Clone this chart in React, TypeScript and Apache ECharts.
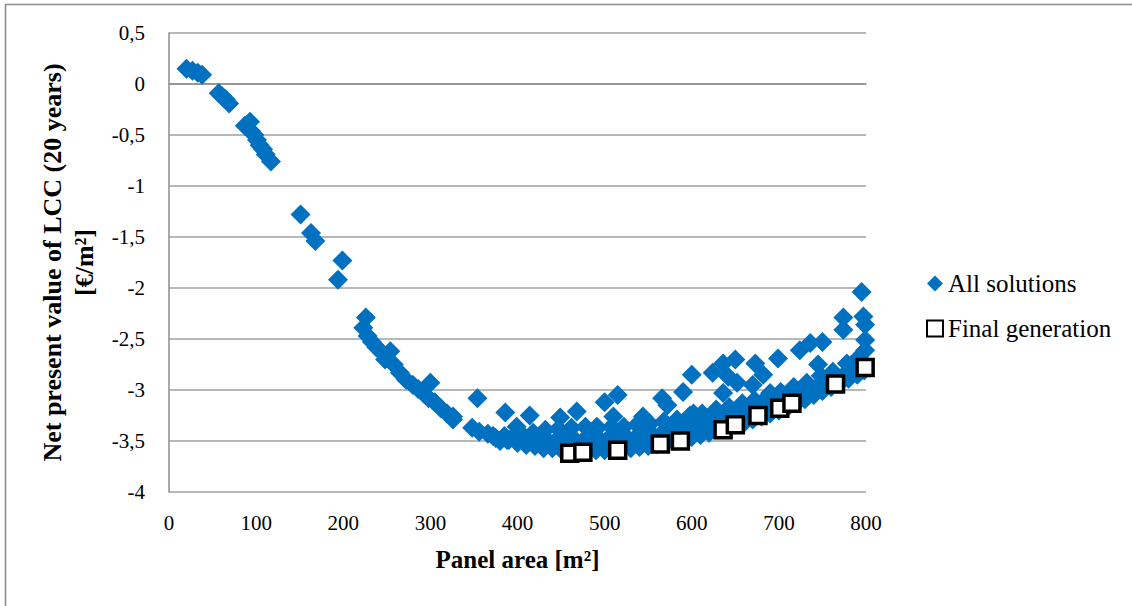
import React, { useEffect, useRef } from "react";
import * as echarts from "echarts";

// All evaluated solutions: panel area [m²] and net present value of LCC [€/m²]
const allArea = [
  20, 27, 33, 38, 57, 61, 65, 69,
  87, 93, 94, 98, 101, 104, 108, 111, 117,
  151, 163, 168, 194, 199,
  226, 223, 228, 233, 238, 244, 254, 248, 258,
  265, 272, 280, 286, 300, 293, 298, 305, 312, 319, 326,
  354, 326, 348, 356, 366, 386, 399, 414, 388, 375, 372, 380, 385,
  449, 468, 500, 515, 510, 491, 544, 566, 572, 590, 600, 602, 624, 636, 650, 642, 636, 652,
  673, 682, 699, 670, 690, 724, 736, 750, 745, 774, 774, 795, 797, 799, 799, 799,
  // lower row of the dense band
  390, 400, 410, 420, 430, 440, 450, 460, 470, 480, 490, 500, 510, 520, 530, 540, 550, 560, 570, 580,
  590, 600, 610, 620, 630, 640, 650, 660, 670, 680, 690, 700, 710, 720, 730, 740, 750, 760, 770, 780, 790, 798,
  // middle row
  395, 405, 415, 425, 435, 445, 455, 465, 475, 485, 495, 505, 515, 525, 535, 545, 555, 565, 575, 585,
  595, 605, 615, 625, 635, 645, 655, 665, 675, 685, 695, 705, 715, 725, 735, 745, 755, 765, 775, 785, 795,
  // upper row
  402, 418, 432, 447, 462, 478, 492, 508, 522, 537, 552, 568, 583, 598, 612, 628, 643, 658, 672, 688,
  702, 717, 732, 748, 762, 778, 792,
];

const allLcc = [
  0.15, 0.13, 0.11, 0.09, -0.09, -0.12, -0.15, -0.19,
  -0.41, -0.37, -0.46, -0.5, -0.55, -0.6, -0.64, -0.69, -0.76,
  -1.28, -1.46, -1.54, -1.92, -1.73,
  -2.29, -2.39, -2.47, -2.53, -2.58, -2.63, -2.62, -2.7, -2.75,
  -2.83, -2.9, -2.95, -2.99, -2.93, -3.04, -3.08, -3.12, -3.18, -3.23, -3.29,
  -3.08, -3.26, -3.37, -3.41, -3.43, -3.22, -3.36, -3.25, -3.49, -3.47, -3.45, -3.5, -3.45,
  -3.27, -3.21, -3.12, -3.05, -3.26, -3.36, -3.26, -3.08, -3.15, -3.02, -2.85, -3.23, -2.83, -2.74, -2.7, -2.87, -3.03, -2.93,
  -2.74, -2.85, -2.69, -2.95, -3.03, -2.61, -2.54, -2.53, -2.75, -2.29, -2.41, -2.04, -2.28, -2.36, -2.51, -2.61,
  -3.49, -3.52, -3.54, -3.55, -3.57, -3.57, -3.58, -3.59, -3.59, -3.59, -3.59, -3.59, -3.58, -3.57, -3.57, -3.56, -3.55, -3.53, -3.52, -3.5,
  -3.48, -3.46, -3.44, -3.42, -3.39, -3.37, -3.34, -3.32, -3.29, -3.26, -3.23, -3.2, -3.17, -3.13, -3.09, -3.05, -3.01, -2.97, -2.93, -2.89, -2.85, -2.81,
  -3.46, -3.47, -3.5, -3.48, -3.5, -3.49, -3.5, -3.48, -3.5, -3.47, -3.49, -3.47, -3.48, -3.46, -3.47, -3.45, -3.44, -3.43, -3.41, -3.4,
  -3.37, -3.36, -3.33, -3.31, -3.29, -3.26, -3.24, -3.21, -3.19, -3.16, -3.13, -3.1, -3.07, -3.04, -3.0, -2.96, -2.93, -2.89, -2.85, -2.8, -2.75,
  -3.41, -3.42, -3.39, -3.38, -3.37, -3.36, -3.37, -3.36, -3.36, -3.34, -3.33, -3.31, -3.29, -3.25, -3.23, -3.19, -3.17, -3.13, -3.1, -3.06,
  -3.02, -2.97, -2.93, -2.86, -2.82, -2.74, -2.68,
];

// Solutions of the final generation
const finalArea = [460, 475, 515, 564, 587, 636, 650, 676, 701, 715, 765, 799];
const finalLcc = [-3.62, -3.61, -3.59, -3.53, -3.5, -3.39, -3.34, -3.25, -3.18, -3.13, -2.94, -2.78];

const FONT = "'Liberation Serif', 'DejaVu Serif', serif";

export default function App() {
  const ref = useRef<HTMLDivElement>(null);

  useEffect(() => {
    if (!ref.current) return;
    const chart = echarts.init(ref.current, undefined, { renderer: "svg" });
    const allData = allArea.map((x, i) => [x, allLcc[i]]);
    const finalData = finalArea.map((x, i) => [x, finalLcc[i]]);

    chart.setOption({
      animation: false,
      backgroundColor: "#ffffff",
      textStyle: { fontFamily: FONT, color: "#000" },
      grid: { left: 169, right: 266, top: 33, bottom: 114, containLabel: false },
      graphic: [
        {
          type: "polyline",
          shape: { points: [[5.5, 606], [5.5, 4.5], [1132, 4.5]] },
          style: { stroke: "#8c8c8c", lineWidth: 1.5, fill: "none" },
          silent: true,
        },
      ],
      legend: {
        orient: "vertical",
        left: 926,
        top: 271,
        padding: 0,
        itemGap: 20,
        itemWidth: 16,
        itemHeight: 16,
        textStyle: { fontFamily: FONT, fontSize: 25, color: "#000" },
        data: [{ name: "All solutions" }, { name: "Final generation" }],
      },
      xAxis: {
        type: "value",
        min: 0,
        max: 800,
        interval: 100,
        name: "Panel area [m²]",
        nameLocation: "middle",
        nameGap: 55,
        nameTextStyle: { fontFamily: FONT, fontSize: 25, fontWeight: "bold", color: "#000" },
        axisLine: { show: true, lineStyle: { color: "#8c8c8c", width: 1.5 } },
        axisTick: { show: false },
        splitLine: { show: false },
        axisLabel: { fontFamily: FONT, fontSize: 21, color: "#000", margin: 20 },
      },
      yAxis: {
        type: "value",
        min: -4,
        max: 0.5,
        interval: 0.5,
        name: "Net present value of LCC (20 years)\n[€/m²]",
        nameLocation: "middle",
        nameGap: 68,
        nameTextStyle: {
          fontFamily: FONT,
          fontSize: 26,
          fontWeight: "bold",
          color: "#000",
          lineHeight: 32,
          align: "center",
        },
        axisLine: { show: true, lineStyle: { color: "#8c8c8c", width: 1.5 } },
        axisTick: { show: false },
        splitLine: { show: true, lineStyle: { color: "#a0a0a0", width: 1.5 } },
        axisLabel: {
          fontFamily: FONT,
          fontSize: 21,
          color: "#000",
          margin: 24,
          formatter: (v: number) => String(v).replace(".", ","),
        },
      },
      series: [
        {
          name: "All solutions",
          type: "scatter",
          symbol: "diamond",
          symbolSize: 20,
          itemStyle: { color: "#0070C0", opacity: 1 },
          data: allData,
          z: 2,
        },
        {
          name: "Final generation",
          type: "scatter",
          symbol: "rect",
          symbolSize: 16,
          itemStyle: { color: "#ffffff", borderColor: "#000000", borderWidth: 3.5, opacity: 1 },
          data: finalData,
          z: 3,
        },
      ],
    });

    return () => chart.dispose();
  }, []);

  return (
    <div
      ref={ref}
      style={{ position: "fixed", left: 0, top: 0, width: 1132, height: 606, background: "#fff" }}
    />
  );
}
